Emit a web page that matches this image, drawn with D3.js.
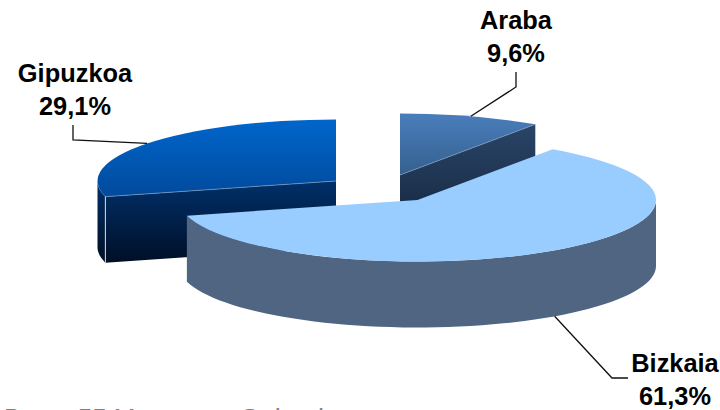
<!DOCTYPE html>
<html>
<head>
<meta charset="utf-8">
<script src="https://cdn.jsdelivr.net/npm/d3@7"></script>
<style>
  html, body { margin: 0; padding: 0; background: #fff; overflow: hidden; }
  svg { display: block; }
  text { font-family: "Liberation Sans", Arial, sans-serif; }
  .label { font-size: 25.4px; font-weight: bold; fill: #000; text-anchor: middle; }
  .leader { fill: none; stroke: #111; stroke-width: 1.3; }
  .note { font-size: 26px; font-style: italic; fill: #808080; white-space: pre; }
</style>
</head>
<body>
<svg id="chart" width="720" height="410"></svg>
<script>
// Data
const categories = ["Araba", "Bizkaia", "Gipuzkoa"];
const values = [9.6, 61.3, 29.1];
const valueLabels = ["9,6%", "61,3%", "29,1%"];
const noteParts = ["Base: 55 Marrazo", "Galerak"];

// Layout
const width = 720, height = 410;
const rx = 238.5, ry = 61.5, depth = 66;
const centers = [[400, 175], [417.5, 200], [336, 181]];
const labelPos = [[516, 29], [675, 372], [75, 82]];
const notePos = [[2, 426.5], [238, 426.5]];
const leaderEnds = [
  [[516, 72], [516, 87]],
  [[628, 378], [612, 378]],
  [[73, 125], [73, 140]]
];
const topFill = ["url(#topAraba)", "#99ccff", "url(#topGipuzkoa)"];
const sideFill = ["url(#sideAraba)", "#4f6582", "url(#sideGipuzkoa)"];

const svg = d3.select("#chart");

// Gradients
const defs = svg.append("defs");
function addGradient(id, from, to) {
  const g = defs.append("linearGradient").attr("id", id)
    .attr("x1", 0).attr("y1", 0).attr("x2", 0).attr("y2", 1);
  g.append("stop").attr("offset", 0).attr("stop-color", from);
  g.append("stop").attr("offset", 1).attr("stop-color", to);
}
addGradient("topAraba", "#4a7ebb", "#35608f");
addGradient("sideAraba", "#2a4568", "#13233a");
addGradient("topGipuzkoa", "#0066cc", "#014a9c");
addGradient("sideGipuzkoa", "#00306a", "#000f26");

const pie = d3.pie().sort(null).value(d => d);
const arcs = pie(values);
const arc = d3.arc().innerRadius(0).outerRadius(rx);

// angle 0 is at the top and runs clockwise, same as d3.arc
const point = (i, a, drop = 0) => [
  centers[i][0] + rx * Math.sin(a),
  centers[i][1] - ry * Math.cos(a) + drop
];

// Outer wall for the part of the slice that faces the viewer
function wallPath(i) {
  const a0 = Math.max(arcs[i].startAngle, Math.PI / 2);
  const a1 = Math.min(arcs[i].endAngle, Math.PI * 1.5);
  if (a0 >= a1) return null;
  const angles = d3.range(0, 61).map(k => a0 + (a1 - a0) * k / 60);
  const top = angles.map(a => point(i, a));
  const bottom = angles.map(a => point(i, a, depth)).reverse();
  return d3.line()(top.concat(bottom)) + "Z";
}

// Cut face along the radius at angle a, only drawn where it shows
function facePath(i, a) {
  const c = centers[i];
  const p = point(i, a);
  return d3.line()([c, p, [p[0], p[1] + depth], [c[0], c[1] + depth]]) + "Z";
}

const visibleFaces = [
  [arcs[0].endAngle],
  [],
  [arcs[2].startAngle]
];

// back to front
[2, 0, 1].forEach(i => {
  const g = svg.append("g").attr("class", "slice");

  visibleFaces[i].forEach(a => {
    g.append("path").attr("d", facePath(i, a)).attr("fill", sideFill[i]);
  });

  const wall = wallPath(i);
  if (wall) g.append("path").attr("d", wall).attr("fill", sideFill[i]);

  g.append("path")
    .attr("d", arc(arcs[i]))
    .attr("transform", `translate(${centers[i]}) scale(1,${ry / rx})`)
    .attr("fill", topFill[i]);

  // light edges on the cut
  visibleFaces[i].forEach(a => {
    const p = point(i, a);
    g.append("line")
      .attr("x1", centers[i][0]).attr("y1", centers[i][1])
      .attr("x2", p[0]).attr("y2", p[1])
      .attr("stroke", "#7f9cc0").attr("stroke-width", 0.7);
  });
  if (i === 2) {
    const p = point(i, arcs[i].startAngle);
    g.append("line")
      .attr("x1", p[0]).attr("y1", p[1])
      .attr("x2", p[0]).attr("y2", p[1] + depth)
      .attr("stroke", "#fff").attr("stroke-width", 0.8);
  }
});

// Leader lines start at the middle of each slice's outer edge
arcs.forEach((d, i) => {
  const mid = (d.startAngle + d.endAngle) / 2;
  const facing = mid > Math.PI / 2 && mid < Math.PI * 1.5;
  const start = point(i, mid, facing ? depth : 0);
  svg.append("path")
    .attr("class", "leader")
    .attr("d", d3.line()([...leaderEnds[i], start]));
});

// Labels
categories.forEach((name, i) => {
  const t = svg.append("text").attr("class", "label")
    .attr("x", labelPos[i][0]).attr("y", labelPos[i][1]);
  t.append("tspan").text(name);
  t.append("tspan").attr("x", labelPos[i][0]).attr("dy", 33).text(valueLabels[i]);
});

// Note runs past the bottom edge of the picture, as in the reference
noteParts.forEach((s, i) => {
  svg.append("text").attr("class", "note")
    .attr("x", notePos[i][0]).attr("y", notePos[i][1]).text(s);
});
</script>
</body>
</html>
